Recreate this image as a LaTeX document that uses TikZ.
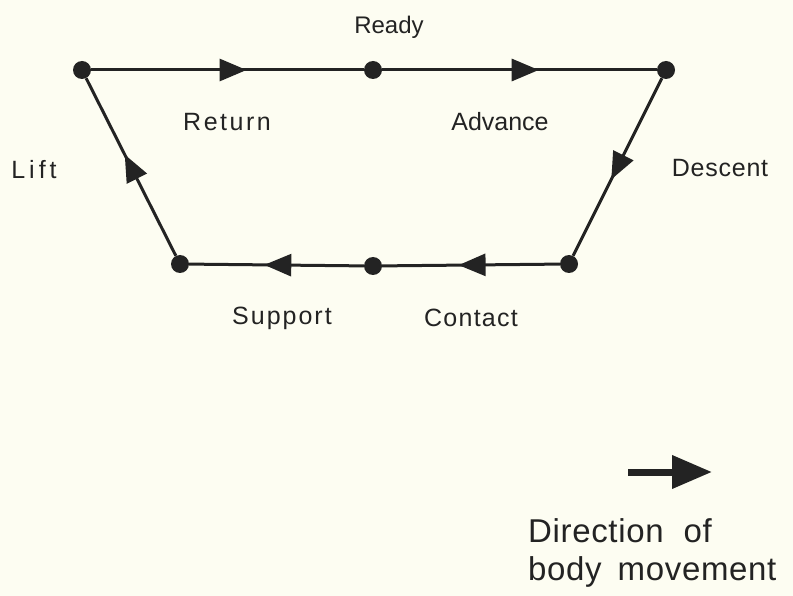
\documentclass[tikz,border=0pt]{standalone}
\usepackage{fontspec}
\setmainfont{Liberation Sans}
\usetikzlibrary{arrows.meta,decorations.markings}
\definecolor{paper}{RGB}{253,253,242}
\definecolor{ink}{RGB}{35,35,35}
\tikzset{
  dot/.style={circle,fill=ink,inner sep=0pt,minimum size=18pt},
  lbl/.style={font=\fontsize{25}{28}\selectfont,text=ink,inner sep=0pt},
  captxt/.style={font=\fontsize{33}{38}\selectfont,text=ink,inner sep=0pt,anchor=base west},
  leg/.style={draw=ink,line width=3pt,postaction={decorate},
    decoration={markings,mark=at position 0.57 with {\arrow{Triangle[length=27pt,width=22pt]}}}},
}
\newcommand{\ls}[2]{{\addfontfeatures{LetterSpace=#1}#2}}
\begin{document}
\begin{tikzpicture}[x=1pt,y=-1pt]
\fill[paper] (0,0) rectangle (793,596);
\useasboundingbox (0,0) rectangle (793,596);
\node[dot] (a) at (82,70) {};
\node[dot] (b) at (373,70) {};
\node[dot] (c) at (666,70) {};
\node[dot] (d) at (569,264) {};
\node[dot] (e) at (373,266) {};
\node[dot] (f) at (180,264) {};
\draw[leg] (a) -- (b);
\draw[leg] (b) -- (c);
\draw[leg] (c) -- (d);
\draw[leg] (d) -- (e);
\draw[leg] (e) -- (f);
\draw[leg] (f) -- (a);
\node[lbl,font=\fontsize{24}{28}\selectfont] (ready) at (389,27) {Ready};
\node[lbl] (ret) at (227,122) {\ls{10}{Return}};
\node[lbl] (adv) at (500,122) {Advance};
\node[lbl] (lift) at (34,170) {\ls{16}{Lift}};
\node[lbl] (desc) at (720,168) {\ls{3}{Descent}};
\node[lbl] (sup) at (282,318) {\ls{8}{Support}};
\node[lbl] (con) at (471,318) {\ls{5}{Contact}};
\coordinate (s) at (628,472);
\coordinate (t) at (712,472);
\draw[draw=ink,line width=7pt,-{Triangle[length=40pt,width=32pt]}] (s) -- (t);
\node[captxt] (dir) at (528,542) {\ls{2}{Direction\hspace{20pt}of}};
\node[captxt] (body) at (528,580) {\ls{2}{body\hspace{16pt}movement}};
\end{tikzpicture}
\end{document}
